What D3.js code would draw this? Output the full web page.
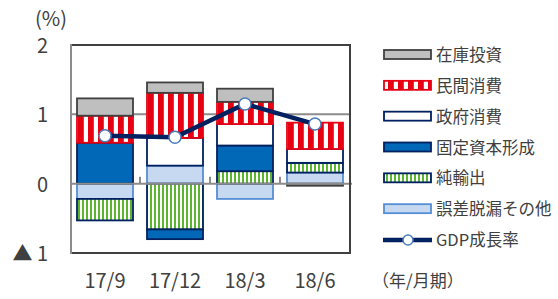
<!DOCTYPE html>
<html>
<head>
<meta charset="utf-8">
<script src="https://cdn.jsdelivr.net/npm/d3@7"></script>
<style>
	body { margin: 0; background: #fff; }
	svg text { font-family: 'Noto Sans CJK JP', 'Noto Sans', sans-serif; fill: #404040; }
</style>
</head>
<body>
<div id="chart"></div>
<script>
// quarters (x axis)
const categories = ['17/9', '17/12', '18/3', '18/6'];

// stack order from zero outward
const seriesKeys = ['誤差脱漏その他', '純輸出', '固定資本形成', '政府消費', '民間消費', '在庫投資'];

const errorsValues = [-0.22, 0.26, -0.22, 0.16];
const netExportValues = [-0.31, -0.66, 0.18, 0.14];
const fixedCapitalValues = [0.59, -0.14, 0.37, 0];
const governmentValues = [0, 0.40, 0.31, 0.20];
const privateValues = [0.39, 0.65, 0.32, 0.38];
const inventoryValues = [0.25, 0.15, 0.19, -0.03];

const gdpValues = [0.69, 0.67, 1.15, 0.86];

const yTicks = [2, 1, 0, -1];
const yTickLabels = ['2', '1', '0', '▲ 1'];

const legendItems = ['在庫投資', '民間消費', '政府消費', '固定資本形成', '純輸出', '誤差脱漏その他', 'GDP成長率'];

const navy = '#002060';

const styles = {
	'誤差脱漏その他': { fill: '#c6d9f1', stroke: '#558ed5' },
	'純輸出': { fill: 'url(#greenStripe)', stroke: navy },
	'固定資本形成': { fill: '#0068b7', stroke: navy },
	'政府消費': { fill: '#ffffff', stroke: navy },
	'民間消費': { fill: 'url(#redStripe)', stroke: '#e60012' },
	'在庫投資': { fill: '#bfbfbf', stroke: '#404040' }
};

let width = 558,
	height = 299;

let svg = d3.select('#chart').append('svg')
			.attr('width', width)
			.attr('height', height);

let defs = svg.append('defs');

// red / white vertical stripes
let red = defs.append('pattern')
			.attr('id', 'redStripe')
			.attr('patternUnits', 'userSpaceOnUse')
			.attr('x', 78)
			.attr('width', 10)
			.attr('height', 10);
red.append('rect').attr('width', 10).attr('height', 10).attr('fill', '#fff');
red.append('rect').attr('width', 5.8).attr('height', 10).attr('fill', '#e60012');

// green / white thin stripes
let green = defs.append('pattern')
			.attr('id', 'greenStripe')
			.attr('patternUnits', 'userSpaceOnUse')
			.attr('x', 78)
			.attr('width', 4)
			.attr('height', 10);
green.append('rect').attr('width', 4).attr('height', 10).attr('fill', '#fff');
green.append('rect').attr('width', 2).attr('height', 10).attr('fill', '#5cb531');

let x = d3.scaleBand()
			.domain(categories)
			.range([70, 350])
			.paddingInner(0.2)
			.paddingOuter(0.1);

let y = d3.scaleLinear()
			.domain([-1, 2])
			.range([253, 45]);

let rows = categories.map((c, i) => ({
	cat: c,
	'誤差脱漏その他': errorsValues[i],
	'純輸出': netExportValues[i],
	'固定資本形成': fixedCapitalValues[i],
	'政府消費': governmentValues[i],
	'民間消費': privateValues[i],
	'在庫投資': inventoryValues[i]
}));

let stacked = d3.stack()
			.keys(seriesKeys)
			.offset(d3.stackOffsetDiverging)(rows);

// gridline at 1
svg.append('line')
	.attr('x1', 70).attr('x2', 350)
	.attr('y1', y(1)).attr('y2', y(1))
	.attr('stroke', '#8c8c8c')
	.attr('stroke-width', 2);

// bars
svg.append('g')
	.selectAll('g')
	.data(stacked)
	.enter()
	.append('g')
	.each(function(s) {
		d3.select(this).selectAll('rect')
			.data(s.filter(d => d[1] - d[0] !== 0))
			.enter()
			.append('rect')
			.attr('x', d => x(d.data.cat))
			.attr('width', x.bandwidth())
			.attr('y', d => y(d[1]))
			.attr('height', d => y(d[0]) - y(d[1]))
			.attr('fill', styles[s.key].fill)
			.attr('stroke', styles[s.key].stroke)
			.attr('stroke-width', 1.8);
	});

// zero line with category ticks
svg.append('line')
	.attr('x1', 70).attr('x2', 352)
	.attr('y1', y(0)).attr('y2', y(0))
	.attr('stroke', '#8c8c8c')
	.attr('stroke-width', 2);

svg.append('g')
	.selectAll('line')
	.data(categories)
	.enter()
	.append('line')
	.attr('x1', (d, i) => 70 + x.step() * (i + 1))
	.attr('x2', (d, i) => 70 + x.step() * (i + 1))
	.attr('y1', y(0))
	.attr('y2', y(0) - 7)
	.attr('stroke', '#8c8c8c')
	.attr('stroke-width', 2);

// frame: top, right, bottom
svg.append('path')
	.attr('d', `M70,${y(2)}H350V${y(-1)}H70`)
	.attr('fill', 'none')
	.attr('stroke', '#404040')
	.attr('stroke-width', 2);

// left axis
svg.append('line')
	.attr('x1', 71).attr('x2', 71)
	.attr('y1', y(2) - 1).attr('y2', y(-1) + 1)
	.attr('stroke', '#8c8c8c')
	.attr('stroke-width', 2);

// GDP line
let line = d3.line()
			.x((d, i) => x(categories[i]) + x.bandwidth() / 2)
			.y(d => y(d));

svg.append('path')
	.datum(gdpValues)
	.attr('d', line)
	.attr('fill', 'none')
	.attr('stroke', navy)
	.attr('stroke-width', 4.5);

svg.append('g')
	.selectAll('circle')
	.data(gdpValues)
	.enter()
	.append('circle')
	.attr('cx', (d, i) => x(categories[i]) + x.bandwidth() / 2)
	.attr('cy', d => y(d))
	.attr('r', 6)
	.attr('fill', '#fff')
	.attr('stroke', '#4a7ebb')
	.attr('stroke-width', 1.5);

// y labels
svg.append('text')
	.attr('x', 35)
	.attr('y', 26)
	.style('font-size', '20px')
	.text('(%)');

svg.append('g')
	.selectAll('text')
	.data(yTicks)
	.enter()
	.append('text')
	.attr('x', 48)
	.attr('y', d => y(d) + 8)
	.attr('text-anchor', 'end')
	.style('font-size', '20px')
	.text((d, i) => yTickLabels[i]);

// x labels
svg.append('g')
	.selectAll('text')
	.data(categories)
	.enter()
	.append('text')
	.attr('x', d => x(d) + x.bandwidth() / 2)
	.attr('y', 288)
	.attr('text-anchor', 'middle')
	.style('font-size', '20px')
	.text(d => d);

svg.append('text')
	.attr('x', 372)
	.attr('y', 287)
	.style('font-size', '17px')
	.text('（年/月期）');

// legend
let legend = svg.append('g');
let ly = d3.scalePoint()
			.domain(legendItems)
			.range([55, 240]);

legendItems.forEach((name) => {
	let cy = ly(name);
	if (name === 'GDP成長率') {
		legend.append('line')
			.attr('x1', 383).attr('x2', 432)
			.attr('y1', cy).attr('y2', cy)
			.attr('stroke', navy)
			.attr('stroke-width', 4.5);
		legend.append('circle')
			.attr('cx', 408).attr('cy', cy)
			.attr('r', 5)
			.attr('fill', '#fff')
			.attr('stroke', '#4a7ebb')
			.attr('stroke-width', 1.5);
	} else {
		legend.append('rect')
			.attr('x', 384).attr('y', cy - 5)
			.attr('width', 47).attr('height', 9)
			.attr('fill', styles[name].fill)
			.attr('stroke', styles[name].stroke)
			.attr('stroke-width', 1.8);
	}
	legend.append('text')
		.attr('x', 436)
		.attr('y', cy + 6)
		.style('font-size', '16.5px')
		.text(name);
});
</script>
</body>
</html>
